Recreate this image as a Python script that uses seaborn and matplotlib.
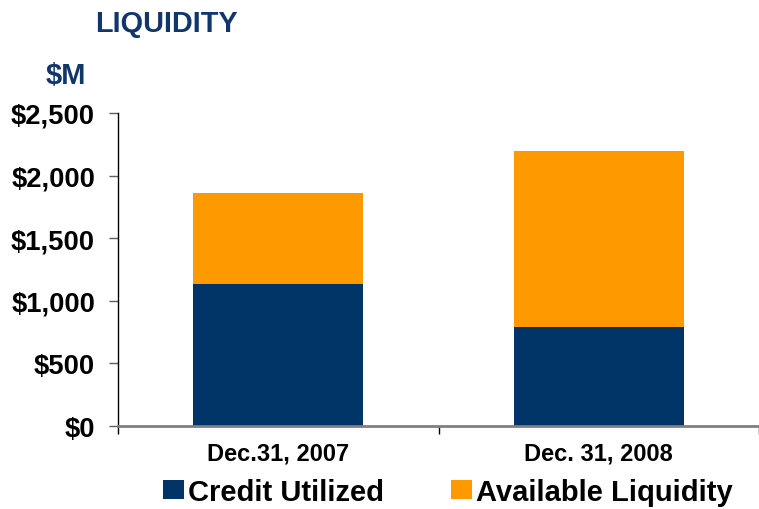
import matplotlib
matplotlib.use("Agg")
import matplotlib.pyplot as plt
import seaborn as sns
import pandas as pd
from matplotlib.patches import Patch
from matplotlib.ticker import FixedLocator, FuncFormatter

categories = ["Dec.31, 2007", "Dec. 31, 2008"]
credit_utilized = [1134, 793]
available_liquidity = [727, 1403]
yticks = [0, 500, 1000, 1500, 2000, 2500]
series_names = ["Credit Utilized", "Available Liquidity"]

NAVY = "#003366"
ORANGE = "#FF9900"
TITLE = "#10366B"

sns.set_theme(style="white")
plt.rcParams["font.family"] = ["Liberation Sans", "DejaVu Sans"]
plt.rcParams["font.weight"] = "bold"

df = pd.DataFrame({
    "cat": categories,
    "credit": credit_utilized,
    "total": [c + a for c, a in zip(credit_utilized, available_liquidity)],
})

fig = plt.figure(figsize=(7.59, 5.10), dpi=100)
ax = fig.add_axes([118 / 759, 1 - 427 / 510, (759 - 118) / 759, (427 - 114) / 510])

sns.barplot(data=df, x="cat", y="total", color=ORANGE, width=0.53,
            saturation=1, ax=ax, edgecolor="none", linewidth=0)
sns.barplot(data=df, x="cat", y="credit", color=NAVY, width=0.53,
            saturation=1, ax=ax, edgecolor="none", linewidth=0)

ax.set_xlim(-0.5, 1.5)
ax.set_ylim(0, 2500)
ax.set_xlabel("")
ax.set_ylabel("")

for s in ["top", "right"]:
    ax.spines[s].set_visible(False)
ax.spines["left"].set_color("black")
ax.spines["left"].set_linewidth(1.0)
ax.spines["bottom"].set_color("#808080")
ax.spines["bottom"].set_linewidth(2.0)

ax.yaxis.set_major_locator(FixedLocator(yticks))
ax.yaxis.set_major_formatter(FuncFormatter(lambda v, p: f"${int(v):,}"))
ax.tick_params(axis="y", which="major", left=True, length=6.5, width=1.0,
               color="#606060", labelsize=19.7, pad=10, direction="out")
for lab in ax.get_yticklabels():
    lab.set_fontweight("bold")
    lab.set_color("black")

ax.set_xticks([0, 1])
ax.set_xticklabels(categories, fontsize=17, fontweight="bold", color="black")
ax.tick_params(axis="x", which="major", length=0, pad=11)
ax.xaxis.set_minor_locator(FixedLocator([-0.5, 0.5, 1.5]))
ax.tick_params(axis="x", which="minor", bottom=True, length=6, width=1.0,
               color="black", direction="out")

fig.text(95 / 759, 1 - 24 / 510, "LIQUIDITY", fontsize=20.8, fontweight="bold",
         color=TITLE, va="center", ha="left")
fig.text(46 / 759, 1 - 76 / 510, "$M", fontsize=21, fontweight="bold",
         color=TITLE, va="center", ha="left")

handles = [Patch(facecolor=NAVY, edgecolor="none"),
           Patch(facecolor=ORANGE, edgecolor="none")]
leg = fig.legend(handles, series_names, loc="center", ncol=2,
                 bbox_to_anchor=(448 / 759, 1 - 493 / 510), frameon=False,
                 prop={"size": 21, "weight": "bold"}, handlelength=0.7,
                 handleheight=0.62, handletextpad=0.15, columnspacing=2.3,
                 borderaxespad=0, borderpad=0)
for t in leg.get_texts():
    t.set_color("black")

fig.savefig("out.png", dpi=100)
